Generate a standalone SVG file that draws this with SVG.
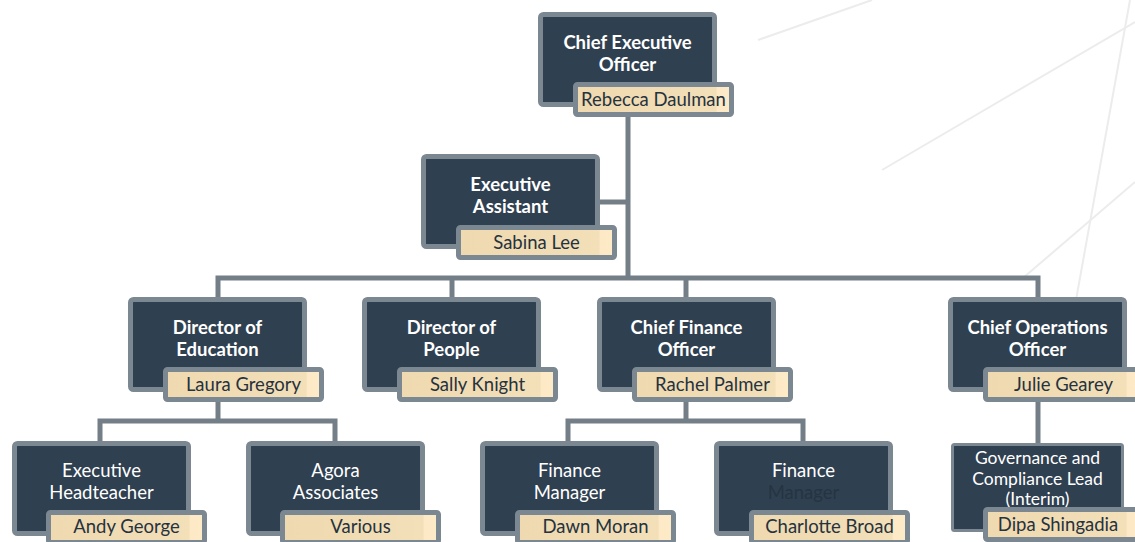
<svg xmlns="http://www.w3.org/2000/svg" width="1135" height="542" viewBox="0 0 1135 542">
  <defs>
    <linearGradient id="nameFill" x1="0" y1="0" x2="1" y2="0">
      <stop offset="0" stop-color="#eed9b0"/>
      <stop offset="0.9" stop-color="#f3dfb8"/>
      <stop offset="0.91" stop-color="#fde9c6"/>
      <stop offset="1" stop-color="#fdeac7"/>
    </linearGradient>
    <style>
      .bg { stroke: #ececec; stroke-width: 2; fill: none; }
      .conn { stroke: #737e87; stroke-width: 5; fill: none; stroke-linejoin: miter; }
      .box { fill: #2f4051; stroke: #7b8791; stroke-width: 5; }
      .name { fill: url(#nameFill); stroke: #7b8791; stroke-width: 5; }
      .title { font-family: Lato, "Liberation Sans", sans-serif; font-size: 18.5px; font-weight: bold; fill: #ffffff; text-anchor: middle; }
      .sub { font-family: Lato, "Liberation Sans", sans-serif; font-size: 18.5px; fill: #ffffff; text-anchor: middle; }
      .tight { font-size: 17.5px; }
      .dim { fill: #263441; }
      .person { font-family: Lato, "Liberation Sans", sans-serif; font-size: 18.5px; fill: #26323e; text-anchor: middle; }
    </style>
  </defs>

  <rect width="1135" height="542" fill="#ffffff"/>

  <!-- background accent lines -->
  <g id="background">
    <line class="bg" x1="758" y1="40" x2="872" y2="0"/>
    <line class="bg" x1="882" y1="170" x2="1135" y2="22"/>
    <line class="bg" x1="1130" y1="0" x2="1076" y2="300"/>
    <line class="bg" x1="1135" y1="182" x2="1023" y2="278"/>
  </g>

  <!-- reporting lines -->
  <g id="connectors">
    <path class="conn" d="M628 112 V278"/>
    <path class="conn" d="M598 202 H628"/>
    <path class="conn" d="M218 299 V278 H1038 V299"/>
    <path class="conn" d="M452 278 V299"/>
    <path class="conn" d="M686 278 V299"/>
    <path class="conn" d="M218 400 V421"/>
    <path class="conn" d="M100 443 V421 H335 V443"/>
    <path class="conn" d="M686 400 V421"/>
    <path class="conn" d="M568 443 V421 H803 V443"/>
    <path class="conn" d="M1038 400 V445"/>
  </g>

  <g id="ceo">
    <rect class="box" x="540.5" y="14.5" width="174" height="90" rx="3"/>
    <text class="title" x="627.5" y="49">Chief Executive</text>
    <text class="title" x="627.5" y="71">Officer</text>
    <rect class="name" x="575.5" y="84.5" width="156" height="30" rx="2"/>
    <text class="person" x="653.5" y="106">Rebecca Daulman</text>
  </g>

  <g id="executive-assistant">
    <rect class="box" x="423.5" y="156.5" width="174" height="90" rx="3"/>
    <text class="title" x="510.5" y="191">Executive</text>
    <text class="title" x="510.5" y="213">Assistant</text>
    <rect class="name" x="458.5" y="227.5" width="156" height="30" rx="2"/>
    <text class="person" x="536.5" y="249">Sabina Lee</text>
  </g>

  <g id="director-education">
    <rect class="box" x="130.5" y="299.5" width="174" height="90" rx="3"/>
    <text class="title" x="217.5" y="334">Director of</text>
    <text class="title" x="217.5" y="356">Education</text>
    <rect class="name" x="165.5" y="369.5" width="156" height="30" rx="2"/>
    <text class="person" x="243.5" y="391">Laura Gregory</text>
  </g>

  <g id="director-people">
    <rect class="box" x="364.5" y="299.5" width="174" height="90" rx="3"/>
    <text class="title" x="451.5" y="334">Director of</text>
    <text class="title" x="451.5" y="356">People</text>
    <rect class="name" x="399.5" y="369.5" width="156" height="30" rx="2"/>
    <text class="person" x="477.5" y="391">Sally Knight</text>
  </g>

  <g id="cfo">
    <rect class="box" x="599.5" y="299.5" width="174" height="90" rx="3"/>
    <text class="title" x="686.5" y="334">Chief Finance</text>
    <text class="title" x="686.5" y="356">Officer</text>
    <rect class="name" x="634.5" y="369.5" width="156" height="30" rx="2"/>
    <text class="person" x="712.5" y="391">Rachel Palmer</text>
  </g>

  <g id="coo">
    <rect class="box" x="950.5" y="299.5" width="174" height="90" rx="3"/>
    <text class="title" x="1037.5" y="334">Chief Operations</text>
    <text class="title" x="1037.5" y="356">Officer</text>
    <rect class="name" x="985.5" y="369.5" width="156" height="30" rx="2"/>
    <text class="person" x="1063.5" y="391">Julie Gearey</text>
  </g>

  <g id="executive-headteacher">
    <rect class="box" x="14.5" y="443.5" width="174" height="90" rx="3"/>
    <text class="sub" x="101.5" y="477">Executive</text>
    <text class="sub" x="101.5" y="499">Headteacher</text>
    <rect class="name" x="48.5" y="512.5" width="156" height="30" rx="2"/>
    <text class="person" x="126.5" y="533">Andy George</text>
  </g>

  <g id="agora-associates">
    <rect class="box" x="248.5" y="443.5" width="174" height="90" rx="3"/>
    <text class="sub" x="335.5" y="477">Agora</text>
    <text class="sub" x="335.5" y="499">Associates</text>
    <rect class="name" x="282.5" y="512.5" width="156" height="30" rx="2"/>
    <text class="person" x="360.5" y="533">Various</text>
  </g>

  <g id="finance-manager-1">
    <rect class="box" x="482.5" y="443.5" width="174" height="90" rx="3"/>
    <text class="sub" x="569.5" y="477">Finance</text>
    <text class="sub" x="569.5" y="499">Manager</text>
    <rect class="name" x="517.5" y="512.5" width="156" height="30" rx="2"/>
    <text class="person" x="595.5" y="533">Dawn Moran</text>
  </g>

  <g id="finance-manager-2">
    <rect class="box" x="716.5" y="443.5" width="174" height="90" rx="3"/>
    <text class="sub" x="803.5" y="477">Finance</text>
    <text class="sub dim" x="803.5" y="499">Manager</text>
    <rect class="name" x="751.5" y="512.5" width="156" height="30" rx="2"/>
    <text class="person" x="829.5" y="533">Charlotte Broad</text>
  </g>

  <g id="governance-lead">
    <rect class="box" x="952.5" y="444.5" width="170" height="86" rx="2" style="stroke-width:3"/>
    <text class="sub tight" x="1037.5" y="464">Governance and</text>
    <text class="sub tight" x="1037.5" y="485">Compliance Lead</text>
    <text class="sub tight" x="1037.5" y="505">(Interim)</text>
    <rect class="name" x="985.5" y="509.5" width="156" height="30" rx="2"/>
    <text class="person" x="1058" y="531">Dipa Shingadia</text>
  </g>
</svg>
